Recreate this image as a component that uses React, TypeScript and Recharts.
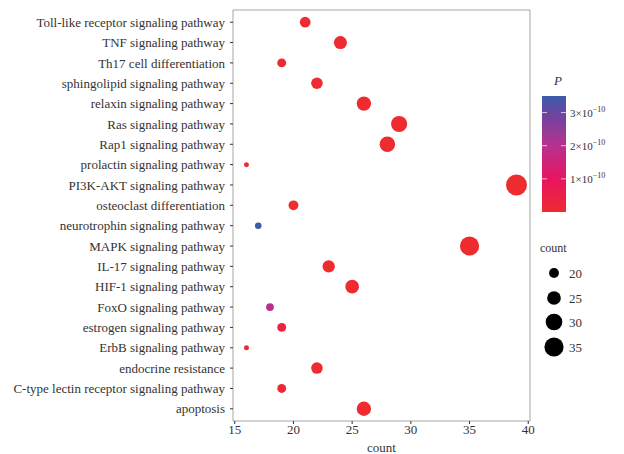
import React from 'react';
import {
  ReferenceArea,
  Scatter,
  ScatterChart,
  XAxis,
  YAxis,
  ZAxis,
  Cell,
} from 'recharts';

const pathways = [
  'Toll-like receptor signaling pathway',
  'TNF signaling pathway',
  'Th17 cell differentiation',
  'sphingolipid signaling pathway',
  'relaxin signaling pathway',
  'Ras signaling pathway',
  'Rap1 signaling pathway',
  'prolactin signaling pathway',
  'PI3K-AKT signaling pathway',
  'osteoclast differentiation',
  'neurotrophin signaling pathway',
  'MAPK signaling pathway',
  'IL-17 signaling pathway',
  'HIF-1 signaling pathway',
  'FoxO signaling pathway',
  'estrogen signaling pathway',
  'ErbB signaling pathway',
  'endocrine resistance',
  'C-type lectin receptor signaling pathway',
  'apoptosis',
];

const counts = [21, 24, 19, 22, 26, 29, 28, 16, 39, 20, 17, 35, 23, 25, 18, 19, 16, 22, 19, 26];

// P values (x 1e-10)
const pValues = [
  0.02, 0.01, 0.03, 0.02, 0.01, 0.01, 0.01, 0.05, 0.001, 0.02,
  3.5, 0.001, 0.01, 0.01, 2.0, 0.35, 0.08, 0.02, 0.1, 0.01,
];

const xTicks = [15, 20, 25, 30, 35, 40];
const pTicks = [1, 2, 3];
const sizeTicks = [20, 25, 30, 35];

const P_MIN = 0;
const P_MAX = 3.5;
const COUNT_MIN = 16;
const COUNT_MAX = 39;
const AREA_RANGE: [number, number] = [19.6, 346];

const gradientStops: [number, string][] = [
  [0, '#EE2B2F'],
  [0.28, '#E8155F'],
  [0.57, '#B8308F'],
  [0.86, '#6846A2'],
  [1, '#3A5DAA'],
];

function hexToRgb(h: string) {
  const n = parseInt(h.slice(1), 16);
  return [(n >> 16) & 255, (n >> 8) & 255, n & 255];
}

function colorFor(p: number): string {
  const t = Math.max(0, Math.min(1, (p - P_MIN) / (P_MAX - P_MIN)));
  for (let i = 1; i < gradientStops.length; i++) {
    const [t1, c1] = gradientStops[i];
    const [t0, c0] = gradientStops[i - 1];
    if (t <= t1) {
      const f = (t - t0) / (t1 - t0);
      const a = hexToRgb(c0);
      const b = hexToRgb(c1);
      const m = a.map((v, k) => Math.round(v + (b[k] - v) * f));
      return `rgb(${m[0]},${m[1]},${m[2]})`;
    }
  }
  return gradientStops[gradientStops.length - 1][1];
}

function radiusFor(count: number): number {
  const f = (count - COUNT_MIN) / (COUNT_MAX - COUNT_MIN);
  const area = AREA_RANGE[0] + (AREA_RANGE[1] - AREA_RANGE[0]) * f;
  return Math.sqrt(area / Math.PI);
}

const data = pathways.map((name, i) => ({
  name,
  y: i,
  count: counts[i],
  p: pValues[i],
}));

const FONT = '"Liberation Serif", "Times New Roman", serif';
const TEXT = '#333333';

function PathwayTick({ x, y, payload }: any) {
  return (
    <text x={x} y={y} dy="0.36em" textAnchor="end" fontSize={13} fill={TEXT} fontFamily={FONT}>
      {pathways[payload.value] ?? ''}
    </text>
  );
}

function Legends() {
  const barX = 542;
  const barY = 96;
  const barW = 24;
  const barH = 116;
  const py = (v: number) => barY + barH - ((v - P_MIN) / (P_MAX - P_MIN)) * barH;
  const sizeY = [273, 298, 322, 347];
  return (
    <svg
      width={624}
      height={454}
      style={{ position: 'absolute', left: 0, top: 0, pointerEvents: 'none', fontFamily: FONT }}
    >
      <defs>
        <linearGradient id="pgrad" x1="0" y1="1" x2="0" y2="0">
          {gradientStops.map(([t, c]) => (
            <stop key={t} offset={t} stopColor={c} />
          ))}
        </linearGradient>
      </defs>
      <text x={554} y={85} fontSize={13} fontStyle="italic" fill={TEXT}>
        P
      </text>
      <rect x={barX} y={barY} width={barW} height={barH} fill="url(#pgrad)" />
      {pTicks.map((v) => (
        <g key={v}>
          <line x1={barX} x2={barX + 5} y1={py(v)} y2={py(v)} stroke="#fff" strokeOpacity={0.7} />
          <line x1={barX + barW - 5} x2={barX + barW} y1={py(v)} y2={py(v)} stroke="#fff" strokeOpacity={0.7} />
          <text x={570} y={py(v) + 4} fontSize={11} fill={TEXT}>
            {v}×10
            <tspan fontSize={8} dy={-5}>
              −10
            </tspan>
          </text>
        </g>
      ))}
      <text x={540} y={252} fontSize={12} fill={TEXT}>
        count
      </text>
      {sizeTicks.map((v, i) => (
        <g key={v}>
          <circle cx={554} cy={sizeY[i]} r={radiusFor(v)} fill="#000" />
          <text x={569} y={sizeY[i] + 4.5} fontSize={13} fill={TEXT}>
            {v}
          </text>
        </g>
      ))}
    </svg>
  );
}

export default function App() {
  return (
    <div style={{ position: 'absolute', left: 0, top: 0, width: 624, height: 454, background: '#fff' }}>
      <ScatterChart
        width={624}
        height={454}
        margin={{ top: 10, right: 94, bottom: 0, left: 0 }}
        style={{ fontFamily: FONT }}
      >
        <ReferenceArea
          x1={14.85}
          x2={40.15}
          y1={-0.6}
          y2={19.6}
          fill="none"
          stroke="#A6A6A6"
          strokeWidth={1}
          ifOverflow="visible"
        />
        <XAxis
          type="number"
          dataKey="count"
          domain={[14.85, 40.15]}
          ticks={xTicks}
          allowDataOverflow
          height={33}
          axisLine={false}
          tickSize={3}
          tickLine={{ stroke: '#333' }}
          tick={{ fontSize: 13, fill: TEXT, fontFamily: FONT }}
          tickMargin={1}
          label={{ value: 'count', position: 'insideBottom', offset: 2, fontSize: 13, fill: TEXT, fontFamily: FONT }}
        />
        <YAxis
          type="number"
          dataKey="y"
          domain={[-0.6, 19.6]}
          ticks={pathways.map((_, i) => i)}
          reversed
          allowDataOverflow
          interval={0}
          width={233}
          axisLine={false}
          tickSize={3}
          tickLine={{ stroke: '#333' }}
          tick={<PathwayTick />}
          tickMargin={5}
        />
        <ZAxis type="number" dataKey="count" domain={[COUNT_MIN, COUNT_MAX]} range={AREA_RANGE} />
        <Scatter data={data} isAnimationActive={false}>
          {data.map((d) => (
            <Cell key={d.name} fill={colorFor(d.p)} />
          ))}
        </Scatter>
      </ScatterChart>
      <Legends />
    </div>
  );
}
